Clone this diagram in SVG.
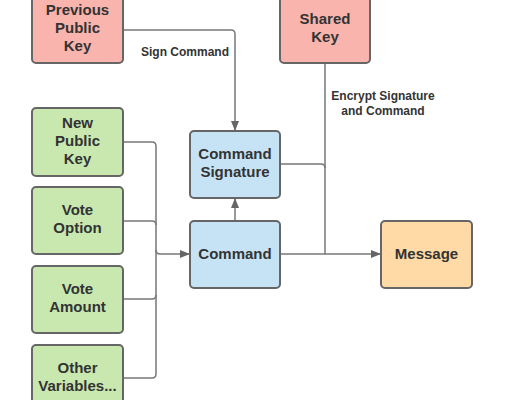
<svg xmlns="http://www.w3.org/2000/svg" width="520" height="400" viewBox="0 0 520 400">
<defs>
<marker id="arr" markerWidth="10" markerHeight="8" refX="9" refY="4" orient="auto" markerUnits="userSpaceOnUse">
<path d="M0,0 L10,4 L0,8 Z" fill="#666"/>
</marker>
<style>
.box{stroke:#666;stroke-width:2}
.red{fill:#f9b4ad}.green{fill:#c8e8b0}.blue{fill:#c6e3f6}.orange{fill:#ffdaa6}
.t{font-family:"Liberation Sans",Arial,sans-serif;font-weight:bold;font-size:15px;fill:#333;text-anchor:middle}
.lbl{font-family:"Liberation Sans",Arial,sans-serif;font-weight:bold;font-size:12px;fill:#333;text-anchor:middle}
.c{fill:none;stroke:#777;stroke-width:1.5}
</style>
</defs>
<rect width="520" height="400" fill="#fff"/>
<g id="connectors">
<path class="c" d="M123,30 H231 Q235,30 235,34 V130" marker-end="url(#arr)"/>
<path class="c" d="M235,221 V199" marker-end="url(#arr)"/>
<path class="c" d="M325,63 V254"/>
<path class="c" d="M280,164 H321 Q325,164 325,168"/>
<path class="c" d="M280,254 H380" marker-end="url(#arr)"/>
<path class="c" d="M123,142 H152 Q156,142 156,146 V374 Q156,378 152,378 H123"/>
<path class="c" d="M123,221 H152 Q156,221 156,225"/>
<path class="c" d="M123,299 H152 Q156,299 156,295"/>
<path class="c" d="M156,250 Q156,254 160,254 H189" marker-end="url(#arr)"/>
<text class="lbl" x="185" y="56">Sign Command</text>
<text class="lbl" x="383" y="100">Encrypt Signature</text>
<text class="lbl" x="383" y="115">and Command</text>
</g>
<g id="previous-public-key">
<rect class="box red" x="32" y="-5" width="91" height="68" rx="4"/>
<text class="t" x="77.5" y="15">Previous</text>
<text class="t" x="77.5" y="33">Public</text>
<text class="t" x="77.5" y="51">Key</text>
</g>
<g id="shared-key">
<rect class="box red" x="280" y="-5" width="90" height="68" rx="4"/>
<text class="t" x="325" y="24">Shared</text>
<text class="t" x="325" y="42">Key</text>
</g>
<g id="new-public-key">
<rect class="box green" x="32" y="108" width="91" height="68" rx="4"/>
<text class="t" x="77.5" y="128">New</text>
<text class="t" x="77.5" y="146">Public</text>
<text class="t" x="77.5" y="164">Key</text>
</g>
<g id="vote-option">
<rect class="box green" x="32" y="187" width="91" height="67" rx="4"/>
<text class="t" x="77.5" y="215">Vote</text>
<text class="t" x="77.5" y="233">Option</text>
</g>
<g id="vote-amount">
<rect class="box green" x="32" y="266" width="91" height="67" rx="4"/>
<text class="t" x="77.5" y="294">Vote</text>
<text class="t" x="77.5" y="312">Amount</text>
</g>
<g id="other-variables">
<rect class="box green" x="32" y="345" width="91" height="68" rx="4"/>
<text class="t" x="77.5" y="373">Other</text>
<text class="t" x="77.5" y="391">Variables...</text>
</g>
<g id="command-signature">
<rect class="box blue" x="190" y="131" width="90" height="67" rx="4"/>
<text class="t" x="235" y="159">Command</text>
<text class="t" x="235" y="177">Signature</text>
</g>
<g id="command">
<rect class="box blue" x="190" y="221" width="90" height="67" rx="4"/>
<text class="t" x="235" y="259">Command</text>
</g>
<g id="message">
<rect class="box orange" x="381" y="221" width="91" height="67" rx="4"/>
<text class="t" x="426.5" y="259">Message</text>
</g>
</svg>
